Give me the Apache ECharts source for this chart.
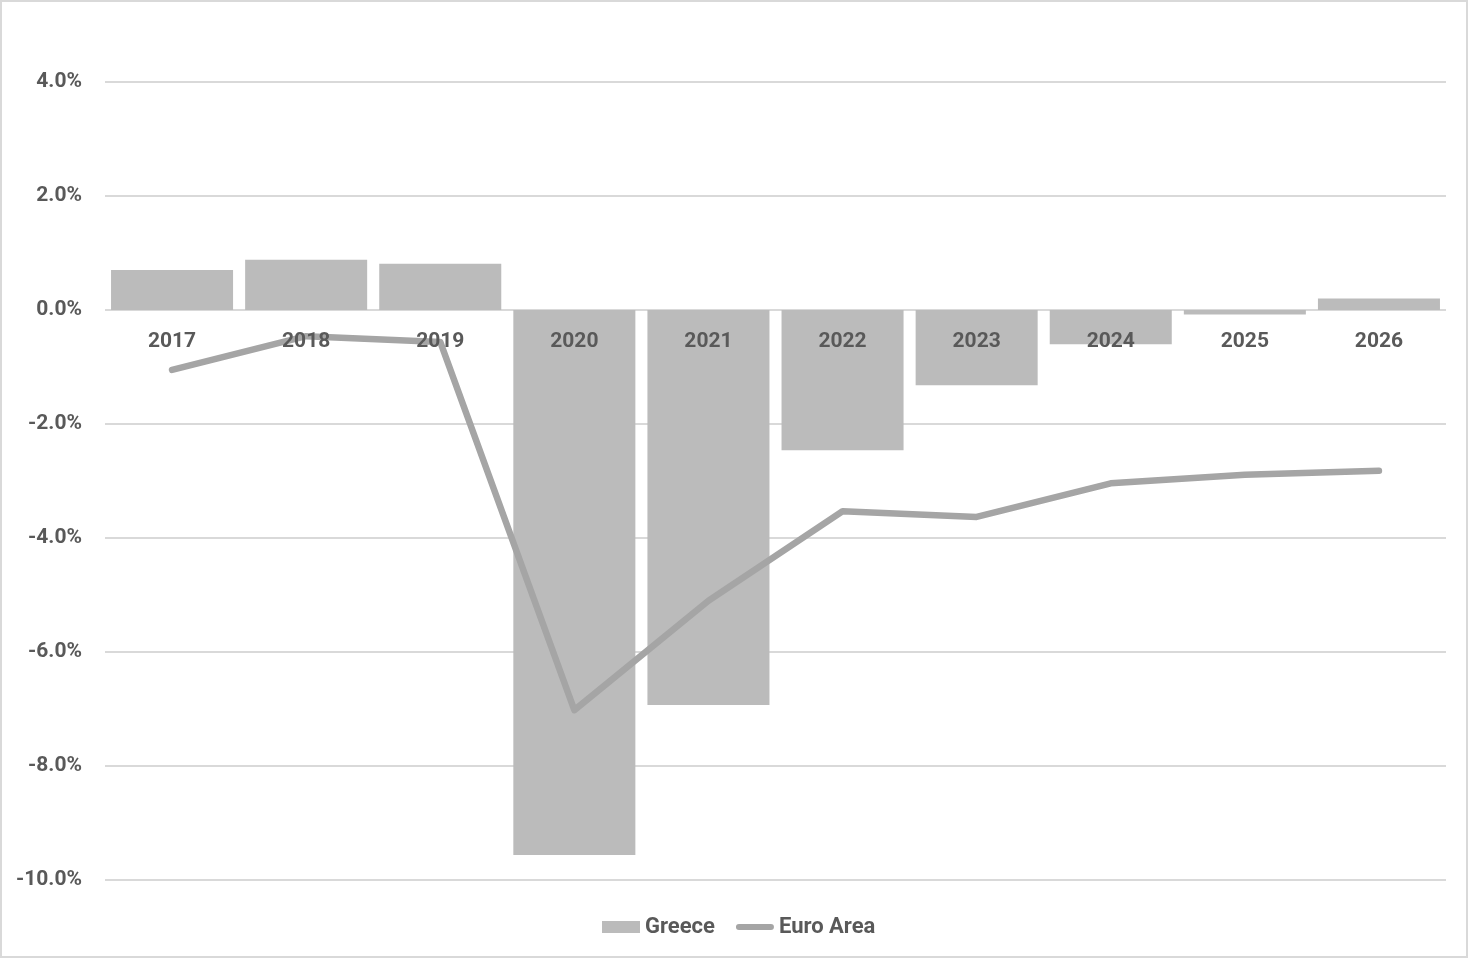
<!DOCTYPE html>
<html>
<head>
<meta charset="utf-8">
<script src="https://cdn.jsdelivr.net/npm/echarts@6/dist/echarts.min.js"></script>
<style>
html,body{margin:0;padding:0;background:#fff;}
#chart{width:1470px;height:960px;}
</style>
</head>
<body>
<div id="chart"></div>
<script>
const years = ['2017','2018','2019','2020','2021','2022','2023','2024','2025','2026'];
const greece = [0.70, 0.88, 0.81, -9.56, -6.93, -2.46, -1.32, -0.60, -0.08, 0.20];
const euroArea = [-1.05, -0.46, -0.56, -7.02, -5.10, -3.53, -3.63, -3.04, -2.89, -2.82];
const yTicks = {min: -10, max: 4, interval: 2};

const chart = echarts.init(document.getElementById('chart'), null, {renderer: 'canvas'});
const font = 'Roboto';
const gridBottom = 80;
chart.setOption({
  animation: false,
  backgroundColor: '#ffffff',
  graphic: [{
    type: 'rect', silent: true, z: 100,
    shape: {x: 1, y: 1, width: 1466, height: 956},
    style: {fill: 'none', stroke: '#d9d9d9', lineWidth: 2}
  }],
  grid: {left: 105, right: 24, top: 82, bottom: gridBottom, containLabel: false},
  legend: {
    left: 597, top: 911,
    itemWidth: 38, itemHeight: 12, itemGap: 21,
    textStyle: {fontFamily: font, fontWeight: 'bold', fontSize: 22, color: '#595959'},
    data: [
      {name: 'Greece', icon: 'rect'},
      {name: 'Euro Area', icon: 'path://M3.5,0 L40.5,0 A3.5,3.5 0 0 1 40.5,7 L3.5,7 A3.5,3.5 0 0 1 3.5,0 Z'}
    ]
  },
  xAxis: {
    type: 'category',
    data: years,
    z: 5,
    axisLine: {show: false, onZero: false},
    axisTick: {show: false},
    axisLabel: {fontFamily: font, fontWeight: 'bold', fontSize: 21, color: '#595959', margin: 21},
    splitLine: {show: false}
  },
  yAxis: {
    type: 'value',
    min: yTicks.min, max: yTicks.max, interval: yTicks.interval,
    axisLine: {show: false},
    axisTick: {show: false},
    axisLabel: {
      fontFamily: font, fontWeight: 'bold', fontSize: 21, color: '#595959', margin: 23,
      formatter: v => v.toFixed(1) + '%'
    },
    splitLine: {lineStyle: {color: '#d9d9d9', width: 2}}
  },
  series: [
    {
      name: 'Greece', type: 'bar', data: greece,
      barCategoryGap: '9%',
      itemStyle: {color: '#bbbbbb'}
    },
    {
      name: 'Euro Area', type: 'line', data: euroArea,
      symbol: 'none', smooth: false,
      itemStyle: {color: '#a5a5a5'},
      lineStyle: {color: '#a5a5a5', width: 6.5, cap: 'round', join: 'round'}
    }
  ]
});
// place the category axis on the zero line using the library's own scale
const zeroY = chart.convertToPixel({yAxisIndex: 0}, 0);
const bottomY = chart.getHeight() - gridBottom;
chart.setOption({xAxis: {offset: zeroY - bottomY}});
</script>
</body>
</html>
